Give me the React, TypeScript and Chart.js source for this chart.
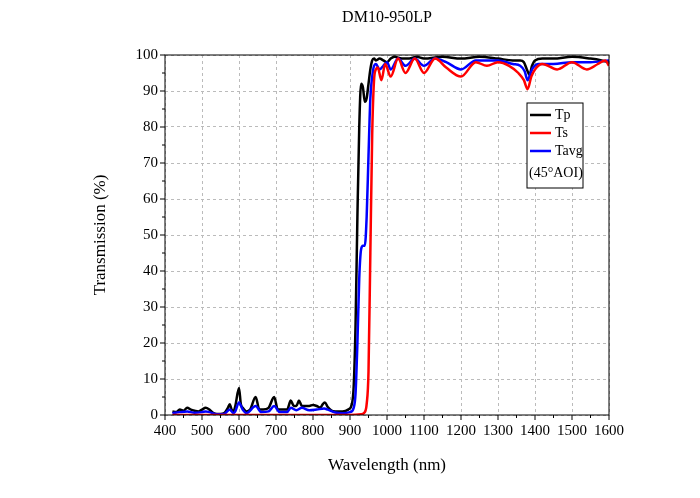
import React, { useEffect, useRef } from "react";
import { Chart, registerables } from "chart.js";
Chart.register(...registerables);

const tpX = [420,430,440,450,460,470,480,490,500,510,520,530,540,550,560,570,575,580,585,590,600,605,610,620,630,645,655,665,680,695,705,715,730,740,748,755,762,770,780,790,800,810,820,825,832,840,850,860,880,895,905,910,915,920,925,930,935,940,945,950,955,960,965,970,980,990,1000,1010,1020,1040,1060,1080,1100,1150,1200,1250,1300,1340,1360,1370,1378,1385,1392,1400,1420,1450,1500,1550,1580,1600];
const tpY = [1,0.8,1.5,1.2,2,1.5,1.2,1.0,1.5,2,1.5,0.6,0.3,0.3,0.5,2,3,1.5,1,2.5,7.5,3,2,1,1.5,5,1.5,1.5,2,5,1.5,1.5,1.5,4,2.5,2.5,4,2.5,2.5,2.5,2.8,2.5,2,2.8,3.5,2.2,1.2,1,1,1.5,3,8,25,55,80,92,91,87,88,92,96,98.5,99,98.5,99,98.5,98,99,99.5,99,99,99.5,99,99.5,99,99.5,99,98.5,98.5,98,96,94.5,97,98.5,99,99,99.5,99,98.5,98];
const tsX = [420,900,930,940,945,950,955,960,965,970,975,985,995,1010,1030,1050,1075,1100,1130,1160,1200,1240,1270,1300,1330,1355,1370,1380,1390,1400,1420,1460,1500,1540,1570,1590,1600];
const tsY = [0,0,0.2,0.8,3,12,45,78,93,96,96.5,93,97.5,94,99,95,99,95,99,96.5,94,98,97,98,97,95,93,90.5,94,96,97.5,96,98,96,97.5,98.5,97];
const tavgX = [420,440,460,480,500,510,520,540,560,575,585,590,600,610,620,645,660,680,695,710,730,740,755,770,790,810,830,840,860,880,900,910,915,920,925,930,935,940,945,950,955,960,965,970,980,990,1000,1010,1030,1050,1075,1100,1130,1160,1200,1240,1300,1340,1360,1372,1380,1388,1395,1410,1450,1500,1550,1600];
const tavgY = [0.5,0.8,1,0.6,0.8,1,0.8,0.2,0.3,1.5,0.5,1,3.5,1.5,0.5,2.5,0.8,1,2.5,0.8,0.8,2,1.3,2,1.3,1.5,1.8,1.5,0.7,0.5,0.8,2,6,20,38,46,47,47,55,72,88,94,97,97.5,96,97,98,96,99,97,99,97,99,98,96,98.5,98.5,97.5,97,95.5,93,95,96.5,97.5,97.5,98,98,98.5];

const toPts = (xs: number[], ys: number[]) => xs.map((x, i) => ({ x, y: ys[i] }));
const FONT = "'Liberation Serif', 'DejaVu Serif', serif";

const extras = {
  id: "extras",
  afterDraw(chart: any) {
    const { ctx, chartArea: a, scales } = chart;
    const xs = scales.x, ys = scales.y;
    ctx.save();
    ctx.setLineDash([]);
    ctx.strokeStyle = "#000"; ctx.lineWidth = 1;
    ctx.strokeRect(a.left, a.top, a.right - a.left, a.bottom - a.top);
    ctx.beginPath();
    for (let v = 400; v <= 1600; v += 100) { const p = xs.getPixelForValue(v); ctx.moveTo(p, a.bottom); ctx.lineTo(p, a.bottom + 5); }
    for (let v = 0; v <= 100; v += 10) { const p = ys.getPixelForValue(v); ctx.moveTo(a.left, p); ctx.lineTo(a.left - 5, p); }
    for (let v = 450; v < 1600; v += 100) { const p = xs.getPixelForValue(v); ctx.moveTo(p, a.bottom); ctx.lineTo(p, a.bottom + 3); }
    for (let v = 5; v < 100; v += 10) { const p = ys.getPixelForValue(v); ctx.moveTo(a.left, p); ctx.lineTo(a.left - 3, p); }
    ctx.stroke();
    ctx.fillStyle = "#000"; ctx.textAlign = "center"; ctx.textBaseline = "middle";
    ctx.font = "16px " + FONT;
    ctx.fillText("DM10-950LP", (a.left + a.right) / 2, 18);
    const bx = 527, by = 103, bw = 56, bh = 85;
    ctx.fillStyle = "#fff"; ctx.fillRect(bx, by, bw, bh); ctx.strokeRect(bx, by, bw, bh);
    const items: [string, string][] = [["Tp", "#000"], ["Ts", "#ff0000"], ["Tavg", "#0000ff"]];
    ctx.font = "14px " + FONT; ctx.textAlign = "left";
    items.forEach(([t, c], i) => {
      const y = by + 12 + i * 18;
      ctx.strokeStyle = c; ctx.lineWidth = 2.5;
      ctx.beginPath(); ctx.moveTo(bx + 3, y); ctx.lineTo(bx + 24, y); ctx.stroke();
      ctx.fillStyle = "#000"; ctx.fillText(t, bx + 28, y);
    });
    ctx.fillText("(45°AOI)", bx + 2, by + 70);
    ctx.restore();
  },
};

export default function App() {
  const ref = useRef<HTMLCanvasElement>(null);
  useEffect(() => {
    document.body.style.margin = "0";
    const mk = (label: string, xs: number[], ys: number[], c: string) => ({
      label, data: toPts(xs, ys), borderColor: c, backgroundColor: c, borderWidth: 2.5,
      pointRadius: 0, cubicInterpolationMode: "monotone" as const,
    });
    const chart = new Chart(ref.current!, {
      type: "line",
      data: { datasets: [mk("Ts", tsX, tsY, "#ff0000"), mk("Tavg", tavgX, tavgY, "#0000ff"), mk("Tp", tpX, tpY, "#000000")] },
      options: {
        animation: false, responsive: false,
        layout: { padding: { left: 86, right: 91, top: 55, bottom: 22 } },
        plugins: { legend: { display: false }, tooltip: { enabled: false } },
        scales: {
          x: {
            type: "linear", min: 400, max: 1600,
            ticks: { stepSize: 100, color: "#000", font: { family: FONT, size: 15 }, maxRotation: 0, padding: 2, callback: (v: any) => String(v) },
            grid: { color: "#bbb", drawTicks: true, tickColor: "transparent", tickLength: 5 },
            border: { display: false, dash: [3, 3] },
            title: { display: true, text: "Wavelength (nm)", color: "#000", font: { family: FONT, size: 17 }, padding: { top: 4, bottom: 0 } },
            afterFit: (s: any) => { s.height = 61; },
          },
          y: {
            min: 0, max: 100,
            ticks: { stepSize: 10, color: "#000", font: { family: FONT, size: 15 }, padding: 2 },
            grid: { color: "#bbb", tickColor: "transparent", tickLength: 5 },
            border: { display: false, dash: [3, 3] },
            title: { display: true, text: "Transmission (%)", color: "#000", font: { family: FONT, size: 17 }, padding: { bottom: 10 } },
            afterFit: (s: any) => { s.width = 79; },
          },
        },
      },
      plugins: [extras],
    });
    return () => chart.destroy();
  }, []);
  return <canvas ref={ref} width={700} height={498} style={{ display: "block" }} />;
}
